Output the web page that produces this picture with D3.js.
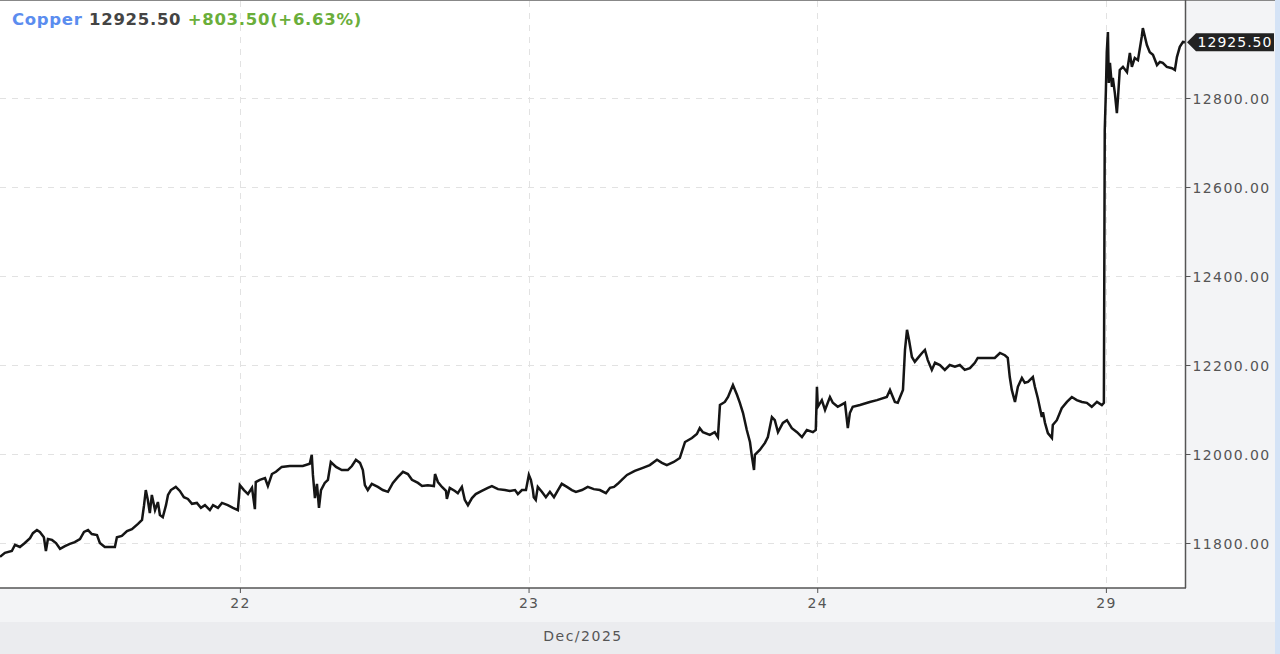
<!DOCTYPE html>
<html>
<head>
<meta charset="utf-8">
<script src="https://cdn.jsdelivr.net/npm/d3@7"></script>
<style>
  body { margin: 0; background: #fff; }
  svg { display: block; font-family: "DejaVu Sans", sans-serif; }
</style>
</head>
<body>
<svg id="chart" width="1280" height="654"></svg>
<script>
// session ticks (trading days only, weekend + holidays skipped)
const sessionTicks = [1, 2, 3, 4]
const sessionLabels = ['22', '23', '24', '29']
const priceTicks = [11800, 12000, 12200, 12400, 12600, 12800]

// time in trading-session units, price in USD/t
const times = [
  0.169, 0.186, 0.210, 0.221, 0.238, 0.255, 0.273, 0.283, 0.297, 0.307, 0.321, 0.328, 0.335, 0.349, 0.363,
  0.377, 0.394, 0.411, 0.428, 0.446, 0.460, 0.474, 0.487, 0.505, 0.515, 0.532, 0.550, 0.567, 0.574, 0.591,
  0.609, 0.626, 0.647, 0.661, 0.668, 0.674, 0.681, 0.688, 0.695, 0.706, 0.716, 0.723, 0.733, 0.744, 0.751,
  0.761, 0.778, 0.792, 0.806, 0.820, 0.834, 0.851, 0.865, 0.879, 0.896, 0.907, 0.924, 0.938, 0.958, 0.976, 0.993,
  1.000, 1.014, 1.028, 1.042, 1.052, 1.055, 1.069, 1.087, 1.097, 1.111, 1.125, 1.145, 1.173, 1.194, 1.218,
  1.242, 1.249, 1.253, 1.260, 1.267, 1.274, 1.281, 1.294, 1.305, 1.315, 1.333, 1.353, 1.374, 1.388, 1.402,
  1.416, 1.426, 1.433, 1.443, 1.457, 1.478, 1.495, 1.513, 1.530, 1.547, 1.565, 1.582, 1.596, 1.617, 1.631,
  1.651, 1.672, 1.676, 1.686, 1.700, 1.714, 1.717, 1.727, 1.745, 1.755, 1.769, 1.779, 1.790, 1.804, 1.817,
  1.838, 1.859, 1.873, 1.894, 1.918, 1.935, 1.953, 1.963, 1.977, 1.991, 2.001, 2.008, 2.015,
  2.018, 2.025, 2.032, 2.046, 2.060, 2.074, 2.088, 2.102, 2.115, 2.133, 2.150, 2.164, 2.185, 2.205, 2.226,
  2.247, 2.268, 2.282, 2.296, 2.309, 2.323, 2.341, 2.368, 2.396, 2.420, 2.445, 2.462, 2.479, 2.503, 2.524,
  2.542, 2.566, 2.583, 2.593, 2.604, 2.628, 2.645, 2.656, 2.663, 2.680, 2.691, 2.708, 2.722, 2.732, 2.743,
  2.756, 2.767, 2.774, 2.781, 2.784, 2.801, 2.819, 2.829, 2.843, 2.853, 2.864, 2.881, 2.895, 2.912, 2.930,
  2.947, 2.964, 2.985, 2.995, 2.999, 3.002,
  3.016, 3.027, 3.044, 3.054, 3.071, 3.096, 3.106, 3.113, 3.123, 3.148, 3.182, 3.207, 3.241, 3.252, 3.269,
  3.279, 3.297, 3.304, 3.311, 3.318, 3.328, 3.338, 3.349, 3.363, 3.373, 3.383, 3.397, 3.408, 3.425, 3.442,
  3.459, 3.477, 3.494, 3.511, 3.529, 3.546, 3.556, 3.588, 3.615, 3.633, 3.650, 3.660, 3.667, 3.674, 3.685,
  3.695, 3.709, 3.719, 3.730, 3.747, 3.754, 3.764, 3.778, 3.782, 3.789, 3.799, 3.813, 3.816, 3.830, 3.847,
  3.865, 3.882, 3.899, 3.917, 3.934, 3.951, 3.969, 3.986, 3.993,
  3.996, 4.000, 4.003, 4.007, 4.010, 4.014, 4.021, 4.024, 4.031, 4.038, 4.042, 4.048, 4.059, 4.073, 4.083,
  4.090, 4.100, 4.111, 4.124, 4.128, 4.142, 4.152, 4.163, 4.177, 4.187, 4.197, 4.211, 4.229, 4.239, 4.246,
  4.256, 4.267, 4.274
]
const prices = [
  11769, 11778, 11782, 11796, 11791, 11800, 11811, 11822, 11829, 11825, 11813, 11782, 11809, 11807, 11800,
  11787, 11793, 11798, 11802, 11809, 11825, 11829, 11820, 11818, 11800, 11791, 11791, 11791, 11813, 11816,
  11827, 11831, 11843, 11852, 11885, 11919, 11897, 11867, 11908, 11874, 11892, 11863, 11858, 11885, 11908,
  11919, 11926, 11917, 11903, 11899, 11888, 11890, 11879, 11885, 11874, 11885, 11879, 11890, 11885, 11879, 11874,
  11930, 11919, 11910, 11924, 11876, 11937, 11942, 11946, 11928, 11955, 11960, 11971, 11973, 11973, 11973,
  11978, 11998, 11953, 11901, 11933, 11879, 11919, 11935, 11942, 11982, 11971, 11964, 11964, 11973, 11987,
  11980, 11964, 11930, 11919, 11933, 11926, 11919, 11915, 11935, 11948, 11960, 11955, 11942, 11935, 11928,
  11930, 11928, 11955, 11937, 11926, 11917, 11899, 11924, 11917, 11912, 11926, 11897, 11885, 11901, 11910,
  11917, 11924, 11928, 11921, 11919, 11917, 11919, 11910, 11919, 11919, 11953, 11942, 11919,
  11903, 11897, 11926, 11915, 11903, 11915, 11903, 11919, 11933, 11926, 11919, 11915, 11919, 11926, 11921,
  11919, 11912, 11924, 11926, 11933, 11942, 11953, 11962, 11969, 11975, 11987, 11980, 11975, 11982, 11991,
  12027, 12036, 12045, 12058, 12049, 12043, 12049, 12038, 12110, 12117, 12128, 12155, 12133, 12115, 12092,
  12054, 12027, 11993, 11964, 11998, 12009, 12025, 12038, 12083, 12076, 12049, 12070, 12076, 12058, 12049,
  12038, 12054, 12049, 12054, 12151, 12106,
  12121, 12099, 12128, 12115, 12106, 12115, 12058, 12092, 12106, 12110, 12117, 12121, 12128, 12144, 12117,
  12115, 12144, 12234, 12279, 12256, 12218, 12207, 12216, 12227, 12234, 12211, 12189, 12205, 12200, 12189,
  12200, 12196, 12200, 12189, 12193, 12205, 12216, 12216, 12216, 12227, 12222, 12216, 12173, 12144, 12117,
  12151, 12171, 12160, 12162, 12173, 12151, 12126, 12083, 12094, 12070, 12047, 12036, 12065, 12076, 12103,
  12117, 12128, 12121, 12117, 12115, 12106, 12117, 12110, 12115,
  12728, 12818, 12903, 12948, 12834, 12879, 12825, 12845, 12811, 12766, 12802, 12863, 12870, 12858, 12901,
  12870, 12890, 12885, 12937, 12957, 12919, 12903, 12897, 12874, 12881, 12879, 12870, 12867, 12863, 12892,
  12915, 12926, 12925.5
]
const lastPrice = 12925.50
const change = 803.50
const changePct = 6.63

const W = 1280, H = 654
const plot = {left: 0, top: 1, right: 1186, bottom: 588}
const FONT = '"DejaVu Sans", sans-serif'

const svg = d3.select('#chart')

const x = d3.scaleLinear().domain([0.169, 4.274]).range([plot.left, 1185])
const y = d3.scaleLinear().domain([11800, 12800]).range([543, 98])

// backgrounds
svg.append('rect').attr('x', 0).attr('y', 0).attr('width', W).attr('height', H).attr('fill', '#f3f4f6')
svg.append('rect').attr('x', 0).attr('y', 622).attr('width', 1275).attr('height', H - 622).attr('fill', '#ebecef')
svg.append('rect').attr('x', 1275).attr('y', 0).attr('width', 5).attr('height', H).attr('fill', '#d4e3f6')
svg.append('rect').attr('x', plot.left).attr('y', plot.top)
    .attr('width', plot.right - plot.left).attr('height', plot.bottom - plot.top).attr('fill', '#fff')
svg.append('line').attr('x1', 0).attr('x2', 1275).attr('y1', 0.5).attr('y2', 0.5).attr('stroke', '#888')

// grid
const grid = svg.append('g').attr('stroke', '#e2e2e2').attr('stroke-dasharray', '6,6')
grid.selectAll('.hg').data(priceTicks).enter().append('line')
    .attr('x1', plot.left).attr('x2', plot.right)
    .attr('y1', d => Math.round(y(d)) + 0.5).attr('y2', d => Math.round(y(d)) + 0.5)
grid.selectAll('.vg').data(sessionTicks).enter().append('line')
    .attr('x1', d => Math.round(x(d)) + 0.5).attr('x2', d => Math.round(x(d)) + 0.5)
    .attr('y1', plot.top).attr('y2', plot.bottom)

// price line
svg.append('clipPath').attr('id', 'clip').append('rect')
    .attr('x', plot.left).attr('y', plot.top)
    .attr('width', plot.right - plot.left).attr('height', plot.bottom - plot.top)

const line = d3.line()
    .x((d, i) => x(times[i]))
    .y(d => y(d))

svg.append('path')
    .datum(prices)
    .attr('clip-path', 'url(#clip)')
    .attr('d', line)
    .attr('fill', 'none')
    .attr('stroke', '#151515')
    .attr('stroke-width', 2.5)
    .attr('stroke-linejoin', 'miter')

// right axis
const yAxis = d3.axisRight(y).tickValues(priceTicks).tickSize(5).tickPadding(2)
    .tickFormat(d3.format('.2f'))
const ya = svg.append('g').attr('transform', `translate(${plot.right - 0.5},0)`).call(yAxis)
    .attr('font-family', FONT)
ya.select('.domain').remove()
ya.selectAll('line').attr('stroke', '#555')
ya.selectAll('text').attr('fill', '#555').style('font-size', '14px').style('letter-spacing', '1.4px')
    .attr('dy', '0.36em')
svg.append('line').attr('x1', plot.right - 0.5).attr('x2', plot.right - 0.5)
    .attr('y1', 0).attr('y2', plot.bottom).attr('stroke', '#555').attr('stroke-width', 1.5)

// bottom axis
const xAxis = d3.axisBottom(x).tickValues(sessionTicks).tickSize(5).tickPadding(5)
    .tickFormat((d, i) => sessionLabels[i])
const xa = svg.append('g').attr('transform', `translate(0,${plot.bottom})`).call(xAxis)
    .attr('font-family', FONT)
xa.select('.domain').remove()
xa.selectAll('line').attr('stroke', '#555')
xa.selectAll('text').attr('fill', '#555').style('font-size', '14px').style('letter-spacing', '1.2px')
svg.append('line').attr('x1', 0).attr('x2', plot.right)
    .attr('y1', plot.bottom).attr('y2', plot.bottom).attr('stroke', '#555').attr('stroke-width', 1.5)

svg.append('text').attr('x', 583).attr('y', 641).attr('text-anchor', 'middle')
    .attr('fill', '#555').style('font-size', '14px').style('letter-spacing', '1.5px')
    .text('Dec/2025')

// last price marker
const ly = y(lastPrice)
const marker = svg.append('g').attr('transform', `translate(${plot.right + 1},${ly})`)
marker.append('path').attr('d', 'M0,0 L9,-9 L87,-9 L87,9 L9,9 Z').attr('fill', '#222')
marker.append('text').attr('x', 48).attr('y', 0).attr('dy', '0.36em').attr('text-anchor', 'middle')
    .attr('fill', '#fff').style('font-size', '14px').style('letter-spacing', '1px')
    .text(d3.format('.2f')(lastPrice))

// title
const title = svg.append('text').attr('x', 12).attr('y', 25)
    .style('font-size', '16.5px').style('font-weight', 'bold').style('letter-spacing', '0.7px')
title.append('tspan').attr('fill', '#5b8def').text('Copper ')
title.append('tspan').attr('fill', '#444').text(d3.format('.2f')(lastPrice) + ' ')
title.append('tspan').attr('fill', '#6aae3a')
    .text(`+${d3.format('.2f')(change)}(+${d3.format('.2f')(changePct)}%)`)
</script>
</body>
</html>
